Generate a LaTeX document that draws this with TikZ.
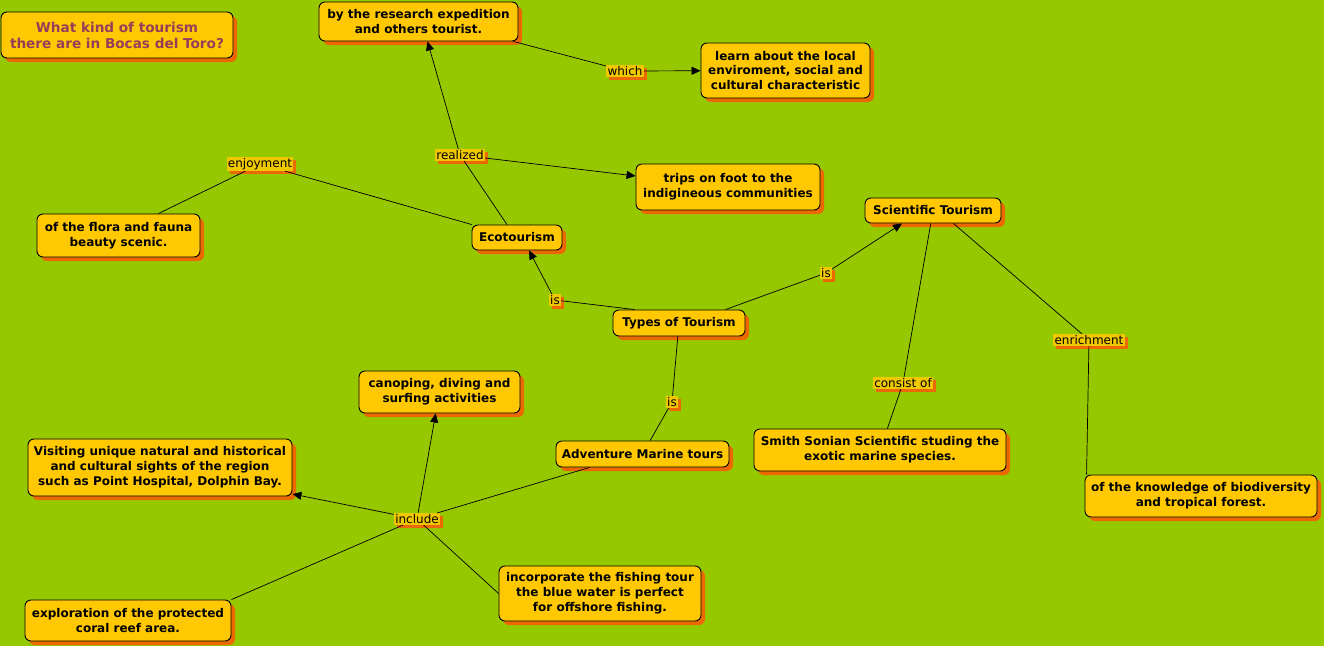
\documentclass[tikz,border=0pt]{standalone}
\usepackage{fontspec}
\setmainfont{DejaVu Sans}
\usetikzlibrary{arrows.meta,shadows,calc}
\definecolor{bg}{RGB}{150,200,0}
\definecolor{boxfill}{RGB}{255,200,0}
\definecolor{lblfill}{RGB}{240,200,0}
\definecolor{shad}{RGB}{236,104,0}
\definecolor{titlecol}{RGB}{153,60,90}
\tikzset{
  concept/.style={draw=black, line width=0.9pt, fill=boxfill, rounded corners=6pt,
    align=center, inner sep=2pt,
    font=\bfseries\fontsize{12}{14.8}\selectfont,
    drop shadow={shadow xshift=4pt, shadow yshift=-4pt, fill=shad, opacity=1}},
  lbl/.style={fill=lblfill, inner sep=1.2pt,
    font=\fontsize{12}{13}\selectfont,
    drop shadow={shadow xshift=3pt, shadow yshift=-3pt, fill=shad, opacity=1}},
  link/.style={draw=black, line width=0.7pt},
  arr/.style={link, -{Triangle[length=9pt,width=8pt]}}
}
\begin{document}
\begin{tikzpicture}[x=1pt,y=-1pt]
\fill[bg] (0,0) rectangle (1324,646);
\useasboundingbox (0,0) rectangle (1324,646);

% concepts
\node[concept, minimum width=232pt, minimum height=46pt, text=titlecol,
  font=\bfseries\fontsize{13.6}{16}\selectfont] (title) at (117,35)
  {What kind of tourism\\there are in Bocas del Toro?};
\node[concept, minimum width=199pt, minimum height=39pt] (research) at (418.5,21.5)
  {by the research expedition\\and others tourist.};
\node[concept, minimum width=169pt, minimum height=55pt] (learn) at (785.5,70.5)
  {learn about the local\\enviroment, social and\\cultural characteristic};
\node[concept, minimum width=184pt, minimum height=46pt] (trips) at (728,187)
  {trips on foot to the\\indigineous communities};
\node[concept, minimum width=163pt, minimum height=43pt] (flora) at (118.5,235.5)
  {of the flora and fauna\\beauty scenic.};
\node[concept, minimum width=90pt, minimum height=25pt] (eco) at (517,237.5)
  {Ecotourism};
\node[concept, minimum width=136pt, minimum height=25pt] (sci) at (933,210.5)
  {Scientific Tourism};
\node[concept, minimum width=132pt, minimum height=26pt] (types) at (679,323)
  {Types of Tourism};
\node[concept, minimum width=161pt, minimum height=42pt] (canop) at (439.5,392)
  {canoping, diving and\\surfing activities};
\node[concept, minimum width=252pt, minimum height=42pt] (smith) at (880,450)
  {Smith Sonian Scientific studing the\\exotic marine species.};
\node[concept, minimum width=264pt, minimum height=57pt] (visit) at (160,467.5)
  {Visiting unique natural and historical\\and cultural sights of the region\\such as Point Hospital, Dolphin Bay.};
\node[concept, minimum width=173pt, minimum height=26pt] (adv) at (642.5,454)
  {Adventure Marine tours};
\node[concept, minimum width=232pt, minimum height=42pt] (know) at (1201,496)
  {of the knowledge of biodiversity\\and tropical forest.};
\node[concept, minimum width=202pt, minimum height=55pt] (incorp) at (600,593.5)
  {incorporate the fishing tour\\the blue water is perfect\\for offshore fishing.};
\node[concept, minimum width=206pt, minimum height=41pt] (explor) at (128,620.5)
  {exploration of the protected\\coral reef area.};

% linking phrases
\node[lbl] (which) at (625,71) {which};
\node[lbl] (realized) at (460,155) {realized};
\node[lbl] (enjoy) at (260,164) {enjoyment};
\node[lbl] (isA) at (555,300) {is};
\node[lbl] (isB) at (826,273) {is};
\node[lbl] (enrich) at (1089,340) {enrichment};
\node[lbl] (consist) at (903,383) {consist of};
\node[lbl] (isC) at (672,402) {is};
\node[lbl] (include) at (417,519) {include};

% connectors
\draw[link] ($(eco.north)+(-10,0)$) -- (realized);
\draw[arr] (realized) -- ($(research.south)+(9,0)$);
\draw[arr] (realized) -- (trips);
\draw[link] ($(research.south east)+(-5,0)$) -- (which);
\draw[arr] (which) -- (learn);
\draw[link] (eco) -- (enjoy);
\draw[link] (enjoy) -- ($(flora.north)+(40,0)$);
\draw[link] ($(types.north west)+(22,0)$) -- (isA);
\draw[arr] (isA) -- ($(eco.south)+(12,0)$);
\draw[link] ($(types.north east)+(-20,0)$) -- (isB);
\draw[arr] (isB) -- ($(sci.south)+(-31,0)$);
\draw[link] (types) -- (isC);
\draw[link] (isC) -- (adv);
\draw[link] (sci) -- (consist);
\draw[link] (consist) -- (smith);
\draw[link] ($(sci.south east)+(-48,0)$) -- (enrich);
\draw[link] (enrich) -- ($(know.north west)+(2,0)$);
\draw[link] ($(adv.south west)+(34,0)$) -- (include);
\draw[arr] (include) -- (canop);
\draw[arr] (include) -- (visit);
\draw[link] (include) -- (incorp.west);
\draw[link] (include) -- (explor.north east);
\end{tikzpicture}
\end{document}
